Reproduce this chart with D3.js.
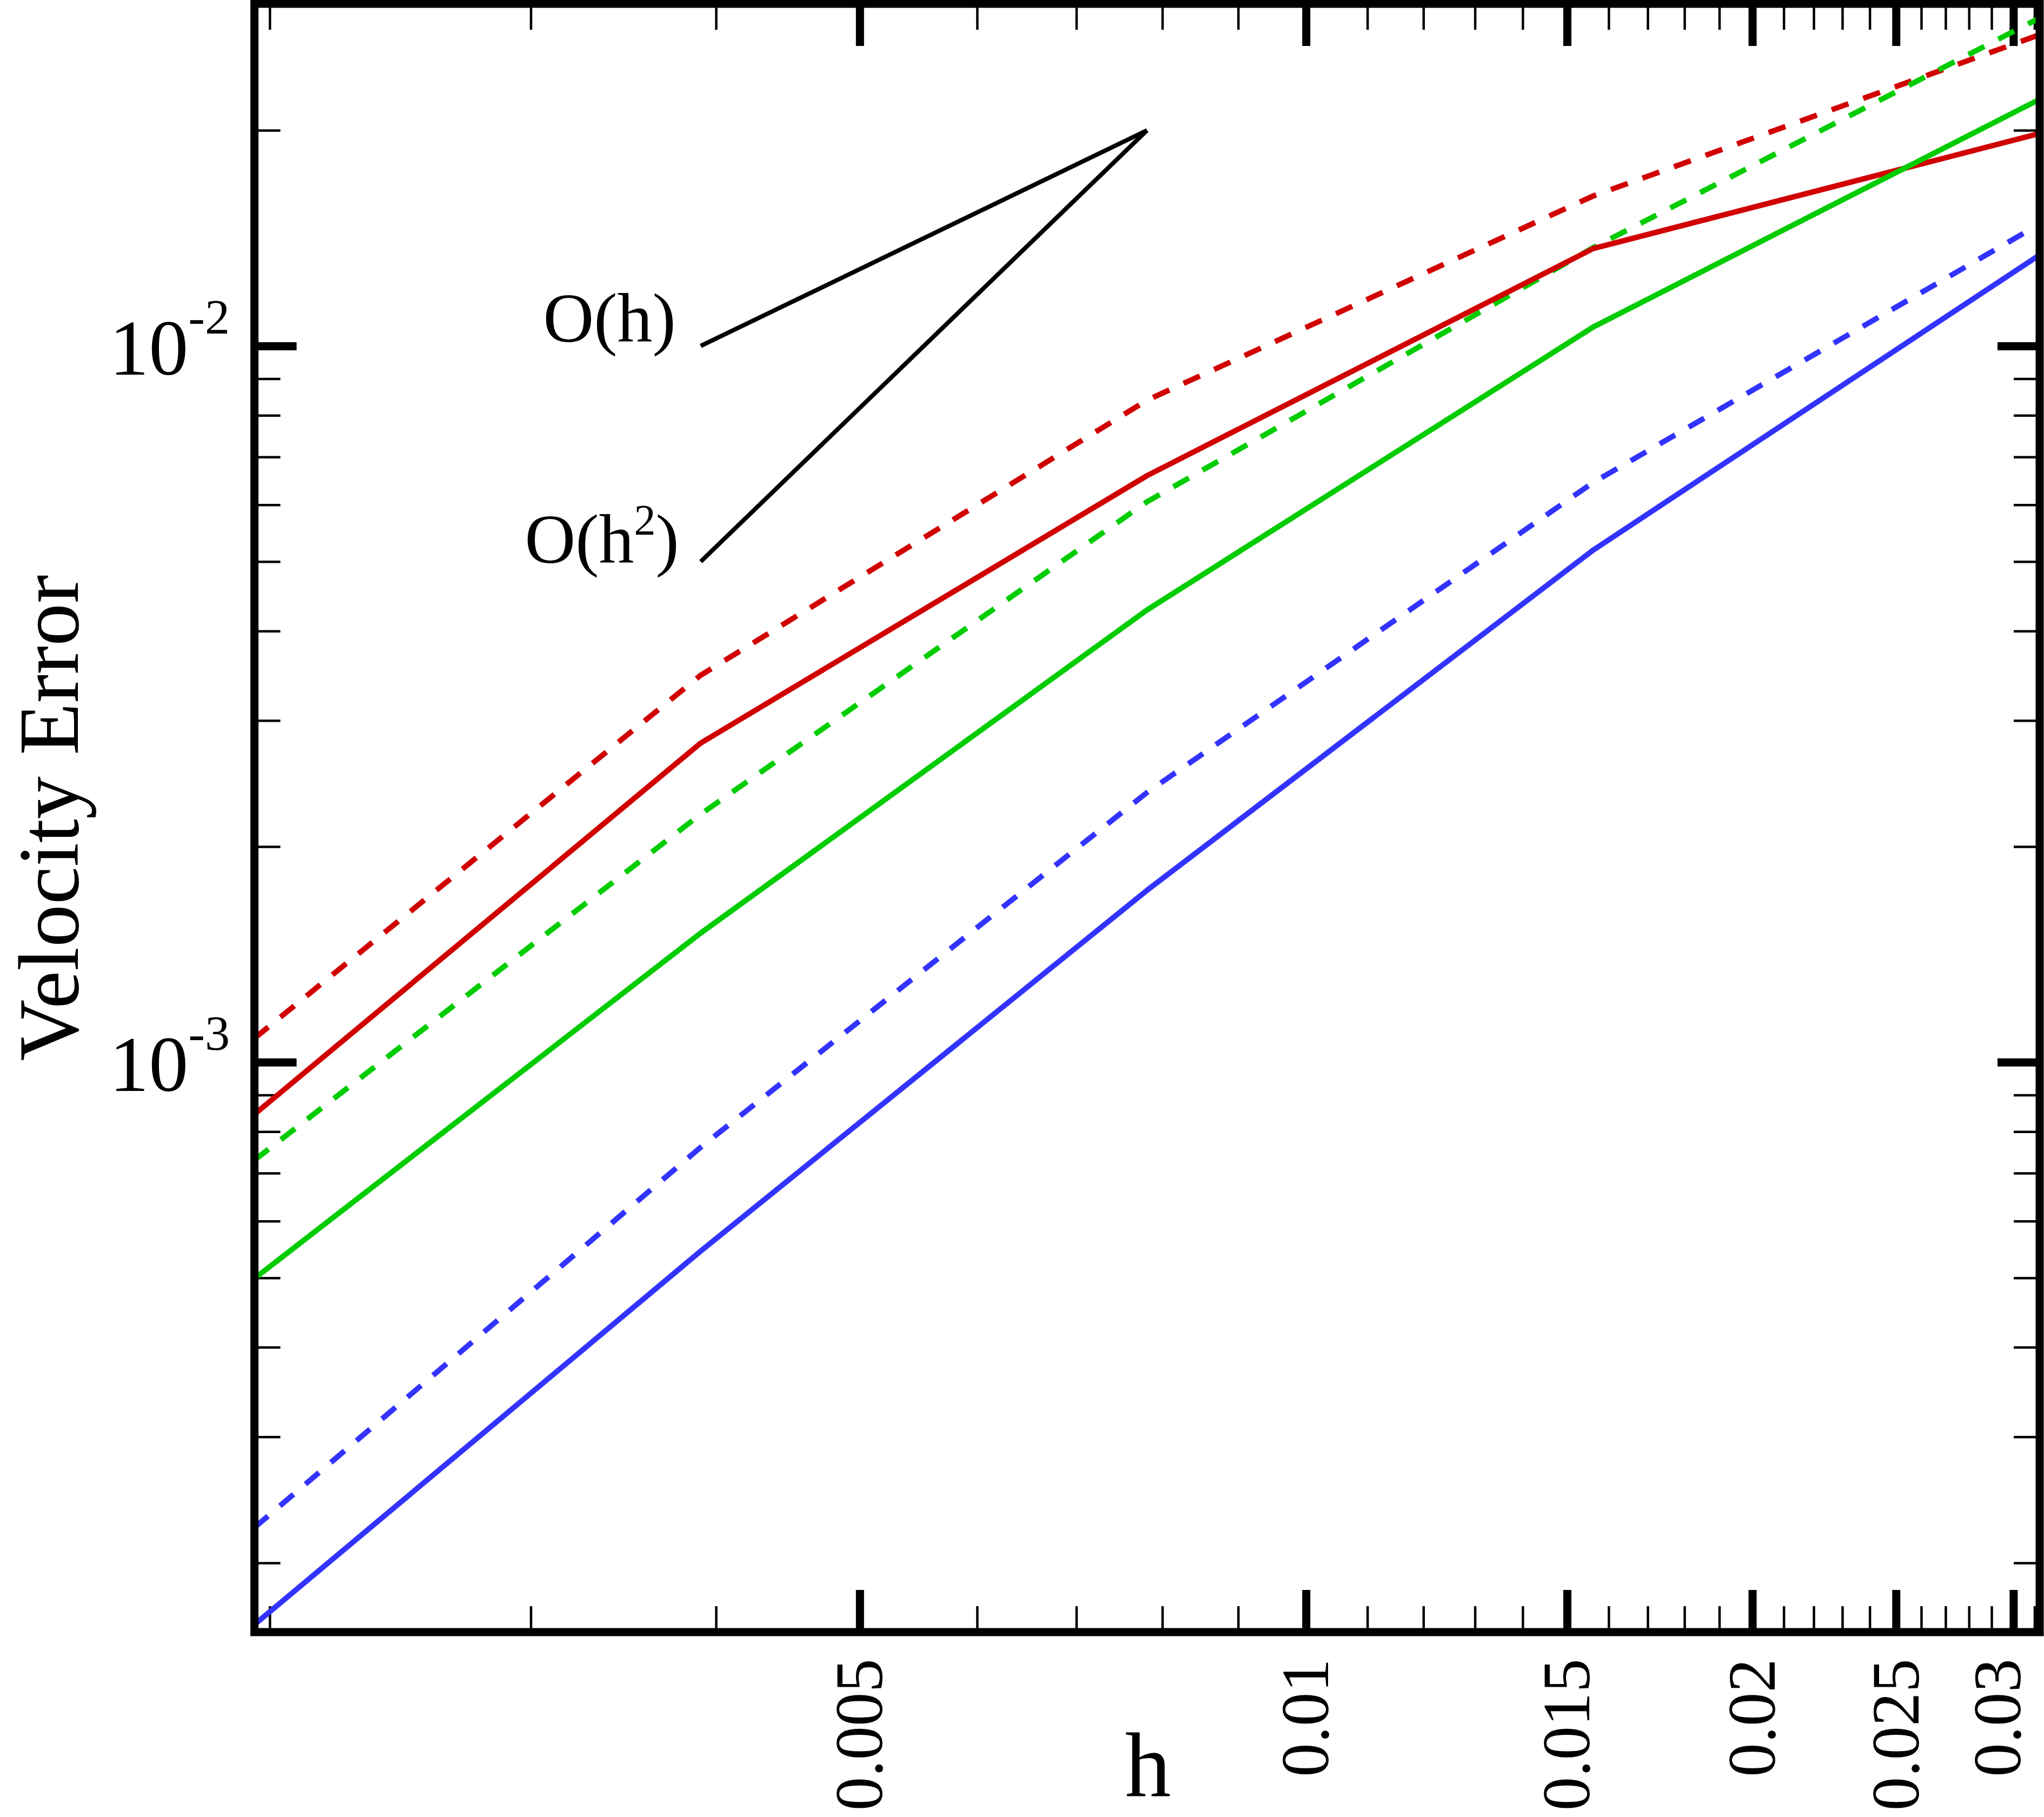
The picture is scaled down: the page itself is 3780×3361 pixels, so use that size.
<!DOCTYPE html>
<html>
<head>
<meta charset="utf-8">
<script src="https://cdn.jsdelivr.net/npm/d3@7"></script>
<style>
  html, body { margin: 0; padding: 0; background: #fff; }
  svg { display: block; }
  text { font-family: "Liberation Serif", "Times New Roman", serif; fill: #000; }
</style>
</head>
<body>
<svg id="chart" width="3780" height="3361"></svg>
<script>
// ---------------- data ----------------
const hValues      = [1/512, 1/256, 1/128, 1/64, 1/32];
const redSolid     = [8.46e-4, 2.79e-3, 6.59e-3, 1.368e-2, 1.98e-2];
const redDashed    = [1.08e-3, 3.47e-3, 8.40e-3, 1.62e-2, 2.72e-2];
const greenSolid   = [4.99e-4, 1.515e-3, 4.28e-3, 1.063e-2, 2.21e-2];
const greenDashed  = [7.30e-4, 2.22e-3, 6.06e-3, 1.372e-2, 2.87e-2];
const blueSolid    = [1.64e-4, 5.45e-4, 1.738e-3, 5.19e-3, 1.34e-2];
const blueDashed   = [2.24e-4, 7.61e-4, 2.38e-3, 6.45e-3, 1.48e-2];

// reference slopes
const refH         = [1/256, 1/128];
const orderOneRef  = [0.01, 0.02];
const orderTwoRef  = [0.005, 0.02];

// tick labels
const xTickValues  = [0.005, 0.01, 0.015, 0.02, 0.025, 0.03];
const xTickLabels  = ["0.005", "0.01", "0.015", "0.02", "0.025", "0.03"];
const yTickValues  = [1e-3, 1e-2];
const yTickExps    = ["-3", "-2"];

const xLabel = "h";
const yLabel = "Velocity Error";

// ---------------- layout ----------------
const svg = d3.select("#chart");
const L = 470.5, R = 3772, T = 7, B = 3019;

const x = d3.scaleLog().domain([1/512, 1/32]).range([L, R]);
const y = d3.scaleLog().domain([1.601e-4, 0.03004]).range([B, T]);

// minor ticks
const xMinor = d3.range(2, 32).map(k => k / 1000).filter(v => !xTickValues.some(m => Math.abs(m - v) < 1e-9) && v >= x.domain()[0] && v <= x.domain()[1]);
const yMinor = [];
[1e-4, 1e-3, 1e-2].forEach(dec => { for (let k = 2; k <= 9; k++) { const v = k * dec; if (v > y.domain()[0] && v < y.domain()[1]) yMinor.push(v); } });

const majorLen = 78, minorLen = 48;

function styleAxis(g, w) {
  g.select(".domain").remove();
  g.selectAll(".tick line").attr("stroke", "#000").attr("stroke-width", w);
  g.selectAll(".tick text").remove();
}

// bottom
svg.append("g").attr("transform", `translate(0,${B})`)
  .call(d3.axisBottom(x).tickValues(xMinor).tickSize(-minorLen).tickFormat(""))
  .call(g => styleAxis(g, 4.5));
svg.append("g").attr("transform", `translate(0,${B})`)
  .call(d3.axisBottom(x).tickValues(xTickValues).tickSize(-majorLen).tickFormat(""))
  .call(g => styleAxis(g, 15));
// top
svg.append("g").attr("transform", `translate(0,${T})`)
  .call(d3.axisTop(x).tickValues(xMinor).tickSize(-minorLen).tickFormat(""))
  .call(g => styleAxis(g, 4.5));
svg.append("g").attr("transform", `translate(0,${T})`)
  .call(d3.axisTop(x).tickValues(xTickValues).tickSize(-majorLen).tickFormat(""))
  .call(g => styleAxis(g, 15));
// left
svg.append("g").attr("transform", `translate(${L},0)`)
  .call(d3.axisLeft(y).tickValues(yMinor).tickSize(-minorLen).tickFormat(""))
  .call(g => styleAxis(g, 4.5));
svg.append("g").attr("transform", `translate(${L},0)`)
  .call(d3.axisLeft(y).tickValues(yTickValues).tickSize(-majorLen).tickFormat(""))
  .call(g => styleAxis(g, 15));
// right
svg.append("g").attr("transform", `translate(${R},0)`)
  .call(d3.axisRight(y).tickValues(yMinor).tickSize(-minorLen).tickFormat(""))
  .call(g => styleAxis(g, 4.5));
svg.append("g").attr("transform", `translate(${R},0)`)
  .call(d3.axisRight(y).tickValues(yTickValues).tickSize(-majorLen).tickFormat(""))
  .call(g => styleAxis(g, 15));

// clip
svg.append("clipPath").attr("id", "plotclip")
  .append("rect").attr("x", L).attr("y", T).attr("width", R - L).attr("height", B - T);

const line = d3.line().x(d => x(d[0])).y(d => y(d[1]));
const series = [
  { vals: redDashed,   color: "#d10000", dash: "33,29" },
  { vals: greenDashed, color: "#00cc00", dash: "33,29" },
  { vals: blueDashed,  color: "#3333ff", dash: "33,29" },
  { vals: redSolid,    color: "#d10000", dash: null },
  { vals: greenSolid,  color: "#00cc00", dash: null },
  { vals: blueSolid,   color: "#3333ff", dash: null }
];
const plot = svg.append("g").attr("clip-path", "url(#plotclip)");
series.forEach(s => {
  plot.append("path")
    .datum(hValues.map((h, i) => [h, s.vals[i]]))
    .attr("d", line)
    .attr("fill", "none")
    .attr("stroke", s.color)
    .attr("stroke-width", 10)
    .attr("stroke-linejoin", "round")
    .attr("stroke-dasharray", s.dash);
});

// reference triangle lines
[orderOneRef, orderTwoRef].forEach(vals => {
  svg.append("path")
    .datum(refH.map((h, i) => [h, vals[i]]))
    .attr("d", line)
    .attr("fill", "none")
    .attr("stroke", "#000")
    .attr("stroke-width", 8)
    .attr("stroke-linejoin", "miter");
});

// reference labels
svg.append("text")
  .attr("x", x(refH[0]) - 46).attr("y", y(orderOneRef[0]) - 8)
  .attr("text-anchor", "end").attr("font-size", 130)
  .text("O(h)");
const t2 = svg.append("text")
  .attr("x", x(refH[0]) - 40).attr("y", y(orderTwoRef[0]) + 2)
  .attr("text-anchor", "end").attr("font-size", 130);
t2.append("tspan").text("O(h");
t2.append("tspan").attr("font-size", 80).attr("dy", -52).text("2");
t2.append("tspan").attr("dy", 52).text(")");

// frame
svg.append("rect")
  .attr("x", L).attr("y", T).attr("width", R - L).attr("height", B - T)
  .attr("fill", "none").attr("stroke", "#000").attr("stroke-width", 15);

// x tick labels
xTickValues.forEach((v, i) => {
  const last = i === xTickValues.length - 1;
  svg.append("text")
    .attr("transform", `translate(${x(v)},3068) rotate(-90)`)
    .attr("text-anchor", "end")
    .attr("dy", last ? "0.1em" : "0.33em")
    .attr("font-size", 125)
    .text(xTickLabels[i]);
});

// y tick labels
yTickValues.forEach((v, i) => {
  const t = svg.append("text")
    .attr("x", 425).attr("y", y(v) + 53)
    .attr("text-anchor", "end")
    .attr("font-size", 146);
  t.append("tspan").text("10");
  t.append("tspan").attr("font-size", 92).attr("dy", -76).text(yTickExps[i]);
});

// axis titles
svg.append("text")
  .attr("x", 2123).attr("y", 3322)
  .attr("text-anchor", "middle").attr("font-size", 170)
  .text(xLabel);
svg.append("text")
  .attr("transform", `translate(144,1513) rotate(-90)`)
  .attr("text-anchor", "middle").attr("font-size", 158)
  .text(yLabel);
</script>
</body>
</html>
